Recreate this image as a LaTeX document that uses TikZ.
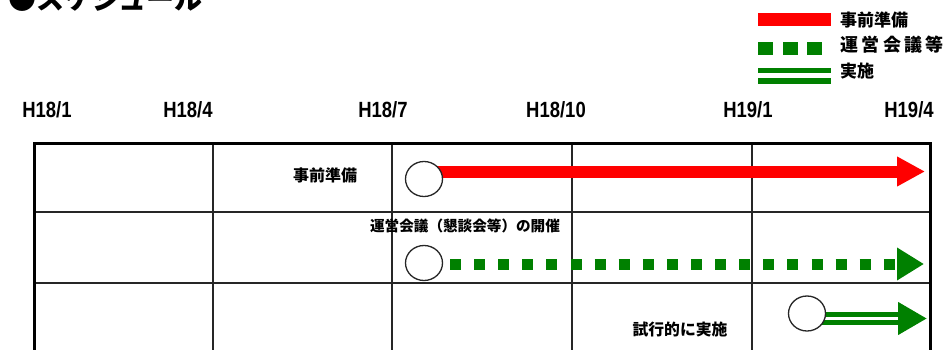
\documentclass[tikz,border=0pt]{standalone}
\usepackage{fontspec}
\newfontfamily\jp{Noto Sans CJK JP}
\newfontfamily\hd{Liberation Sans}[FakeStretch=0.84]
\usetikzlibrary{arrows.meta,shapes.geometric,calc}
\definecolor{gbar}{RGB}{0,128,0}
\definecolor{rbar}{RGB}{255,0,0}
\begin{document}
\begin{tikzpicture}[x=1pt,y=-1pt,
  tabthick/.style={line width=3pt,black},
  tabthin/.style={line width=1.2pt,black!85},
  ring/.style={ellipse,draw=black!85,line width=1.3pt,fill=white,minimum width=37pt,minimum height=35pt,inner sep=0pt},
  redarrow/.style={rbar,line width=12pt,-{Triangle[length=28pt,width=28pt]}},
  dasharrow/.style={gbar,line width=11pt,dash pattern=on 11pt off 13.1pt,-{Triangle[length=27pt,width=31pt]}},
  dblarrow/.style={gbar,line width=13pt,-{Triangle[length=29pt,width=31pt]}},
  dblinner/.style={white,line width=3pt},
  lbl/.style={inner sep=0pt,font=\jp\bfseries\fontsize{#1}{#1}\selectfont},
  hdr/.style={inner sep=0pt,font=\hd\bfseries\fontsize{22}{22}\selectfont},
  leg/.style={anchor=west,inner sep=0pt,font=\jp\bfseries\fontsize{17}{17}\selectfont}]
\useasboundingbox (0,0) rectangle (949,350);
\clip (0,0) rectangle (949,350);
% title (cut off at top)
\node[anchor=base west,inner sep=0pt,font=\jp\bfseries\fontsize{28}{28}\selectfont] (title) at (8,9.5) {●スケジュール};
% legend
\fill[rbar] (758,13) rectangle (831,26);
\foreach \x in {758,783,807} \fill[gbar] (\x,42) rectangle ++(15,13);
\fill[gbar] (758,68) rectangle (831,73);
\fill[gbar] (758,78) rectangle (831,84);
\node[leg] (l1) at (840,20) {事前準備};
\node[leg,font=\jp\bfseries\fontsize{18}{18}\selectfont] (l2) at (840,45) {\addfontfeature{LetterSpace=19}運営会議等};
\node[leg] (l3) at (840,71) {実施};
% header
\node[hdr] (h1) at (47,110) {H18/1};
\node[hdr] (h2) at (188,110) {H18/4};
\node[hdr] (h3) at (383,110) {H18/7};
\node[hdr] (h4) at (556,110) {H18/10};
\node[hdr] (h5) at (748,110) {H19/1};
\node[hdr] (h6) at (909,110) {H19/4};
% table
\foreach \x in {213,392,572,752} \draw[tabthin] (\x,143) -- (\x,360);
\draw[tabthin] (35,212) -- (930,212);
\draw[tabthin] (35,283) -- (930,283);
\draw[tabthick] (34.5,362) -- (34.5,143.5) -- (930.5,143.5) -- (930.5,362);
% row 1
\coordinate (p1) at (424,179);
\coordinate (e1) at (925,171.5);
\draw[redarrow] (p1 |- e1) -- (e1);
\node[ring] (c1) at (p1) {};
\node[lbl=16] (t1) at (325,175) {事前準備};
% row 2
\coordinate (p2) at (424,263);
\coordinate (s2) at (450,264);
\coordinate (e2) at (924,264);
\draw[dasharrow] (s2) -- (e2);
\node[ring] (c2) at (p2) {};
\node[lbl=14.6] (t2) at (465,226) {運営会議（懇談会等）の開催};
% row 3
\coordinate (p3) at (807,313.5);
\coordinate (e3) at (927,318.5);
\coordinate (w3) at (898,318.5);
\draw[dblarrow] (p3 |- e3) -- (e3);
\draw[dblinner] (p3 |- e3) -- (w3);
\node[ring] (c3) at (p3) {};
\node[lbl=15.8] (t3) at (680,330) {試行的に実施};
\end{tikzpicture}
\end{document}
